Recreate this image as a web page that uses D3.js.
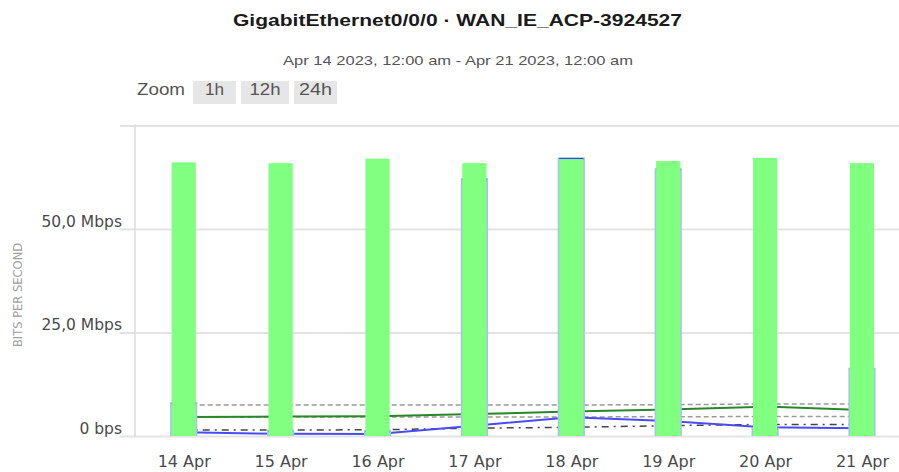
<!DOCTYPE html>
<html>
<head>
<meta charset="utf-8">
<script src="https://cdn.jsdelivr.net/npm/d3@7"></script>
<style>
  body { margin: 0; background: #fff; }
  svg { display: block; }
</style>
</head>
<body>
<svg id="chart" width="899" height="472"></svg>
<script>
// daily points, 14 Apr .. 21 Apr 2023
const days = ["2023-04-14", "2023-04-15", "2023-04-16", "2023-04-17", "2023-04-18", "2023-04-19", "2023-04-20", "2023-04-21"];
// columns (Mbps)
const inBars = [66.1, 65.9, 67.0, 65.9, 66.9, 66.4, 67.2, 65.9];
const outBars = [8.2, 1.5, 1.5, 62.3, 67.3, 64.7, 2.0, 16.5];
// lines (Mbps)
const inAvg = [4.6, 4.7, 4.8, 5.3, 5.9, 6.4, 7.1, 6.3];
const outAvg = [0.9, 0.53, 0.48, 2.5, 4.5, 3.6, 2.1, 1.9];
const inRef = [7.5, 7.5, 7.5, 7.5, 7.5, 7.55, 7.75, 7.75];
const outRef = [4.6, 4.6, 4.6, 4.6, 4.6, 4.65, 4.7, 4.7];
const outTrend = [1.45, 1.45, 1.5, 1.9, 2.1, 2.5, 2.8, 2.8];
const yTicks = [0, 25, 50, 75];
const yLabels = ["0 bps", "25,0 Mbps", "50,0 Mbps", ""];

const parse = d3.timeParse("%Y-%m-%d");
const dates = days.map(parse);

const svg = d3.select("#chart");
const plotLeft = 135, plotRight = 899, plotTop = 125.5, plotBottom = 436;

let x = d3.scaleTime()
  .domain([dates[0], dates[dates.length - 1]])
  .range([183.7, 862]);
let y = d3.scaleLinear()
  .domain([0, 75])
  .range([plotBottom, plotTop]);

// titles
svg.append("text")
  .attr("x", 233).attr("y", 26)
  .attr("textLength", 449)
  .attr("lengthAdjust", "spacingAndGlyphs")
  .style("font", "bold 17px 'Liberation Sans', Arial, sans-serif")
  .style("fill", "#1a1a1a")
  .text("GigabitEthernet0/0/0 · WAN_IE_ACP-3924527");

svg.append("text")
  .attr("x", 283).attr("y", 65)
  .attr("textLength", 350)
  .attr("lengthAdjust", "spacingAndGlyphs")
  .style("font", "13.5px 'Liberation Sans', Arial, sans-serif")
  .style("fill", "#555")
  .text("Apr 14 2023, 12:00 am - Apr 21 2023, 12:00 am");

// zoom buttons
svg.append("text")
  .attr("x", 137).attr("y", 95)
  .attr("textLength", 48)
  .attr("lengthAdjust", "spacingAndGlyphs")
  .style("font", "16px 'Liberation Sans', Arial, sans-serif")
  .style("fill", "#555")
  .text("Zoom");

const buttons = [["1h", 193, 43, 19], ["12h", 241, 48, 31], ["24h", 294, 43, 33]];
let btn = svg.selectAll(".btn").data(buttons).enter().append("g").attr("class", "btn");
btn.append("rect")
  .attr("x", d => d[1]).attr("y", 81)
  .attr("width", d => d[2]).attr("height", 23)
  .attr("fill", "#e6e6e6");
btn.append("text")
  .attr("x", d => d[1] + (d[2] - d[3]) / 2).attr("y", 95)
  .attr("textLength", d => d[3])
  .attr("lengthAdjust", "spacingAndGlyphs")
  .style("font", "16px 'Liberation Sans', Arial, sans-serif")
  .style("fill", "#555")
  .text(d => d[0]);

// y axis with gridlines
let yAxis = svg.append("g")
  .attr("transform", `translate(${plotLeft}, 0)`)
  .call(d3.axisLeft(y)
    .tickValues(yTicks)
    .tickSize(-(plotRight - plotLeft))
    .tickPadding(13)
    .tickFormat((d, i) => yLabels[i]));
yAxis.select(".domain").remove();
yAxis.selectAll(".tick line")
  .attr("x1", -15)
  .attr("stroke", "#e3e3e3")
  .attr("stroke-width", 2);
yAxis.selectAll(".tick text")
  .attr("dy", "-3")
  .style("font", "15.5px 'DejaVu Sans', Verdana, sans-serif")
  .style("fill", "#4a4a4a");

svg.append("line")
  .attr("x1", plotLeft).attr("x2", plotLeft)
  .attr("y1", plotTop - 1).attr("y2", plotBottom + 1)
  .attr("stroke", "#dddddd").attr("stroke-width", 1.5);

svg.append("text")
  .attr("transform", "translate(22, 295) rotate(-90)")
  .attr("text-anchor", "middle")
  .style("font", "11.5px 'DejaVu Sans', Verdana, sans-serif")
  .style("fill", "#a0a0a0")
  .text("BITS PER SECOND");

// x axis
let xAxis = svg.append("g")
  .attr("transform", `translate(0, ${plotBottom})`)
  .call(d3.axisBottom(x)
    .tickValues(dates)
    .tickSize(0)
    .tickPadding(19.5)
    .tickFormat(d3.timeFormat("%-d %b")));
xAxis.select(".domain").remove();
xAxis.selectAll(".tick text")
  .style("font", "16px 'DejaVu Sans', Verdana, sans-serif")
  .style("fill", "#4a4a4a");

// lines
const series = [
  { values: inRef, color: "#9a9a9a", width: 1.5, dash: "5,3" },
  { values: outRef, color: "#9a9a9a", width: 1.5, dash: "5,3" },
  { values: inAvg, color: "#2a862a", width: 2, dash: null },
  { values: outTrend, color: "#444444", width: 1.5, dash: "7,5,2,5" },
  { values: outAvg, color: "#4a4aff", width: 2, dash: null }
];
let line = d3.line()
  .x((d, i) => x(dates[i]))
  .y(d => y(d));
svg.selectAll(".series")
  .data(series)
  .enter().append("path")
  .attr("class", "series")
  .attr("fill", "none")
  .attr("stroke", d => d.color)
  .attr("stroke-width", d => d.width)
  .attr("stroke-dasharray", d => d.dash)
  .attr("d", d => line(d.values));

// columns
const barW = x(d3.timeHour.offset(dates[0], 6)) - x(dates[0]);
let outCol = svg.selectAll(".outbar")
  .data(outBars)
  .enter().append("g")
  .attr("class", "outbar");
outCol.append("rect")
  .attr("x", (d, i) => x(dates[i]) - barW / 2 - 1.5)
  .attr("y", d => y(d))
  .attr("width", barW + 3)
  .attr("height", d => plotBottom - y(d))
  .attr("fill", "#a9c3e6");
outCol.append("line")
  .attr("x1", (d, i) => x(dates[i]) - barW / 2)
  .attr("x2", (d, i) => x(dates[i]) + barW / 2)
  .attr("y1", d => y(d) + 1.5)
  .attr("y2", d => y(d) + 1.5)
  .attr("stroke", "#4040ff")
  .attr("stroke-width", 2);

svg.selectAll(".inbar")
  .data(inBars)
  .enter().append("rect")
  .attr("class", "inbar")
  .attr("x", (d, i) => x(dates[i]) - barW / 2)
  .attr("y", d => y(d))
  .attr("width", barW)
  .attr("height", d => plotBottom - y(d))
  .attr("fill", "#80ff80");
</script>
</body>
</html>
